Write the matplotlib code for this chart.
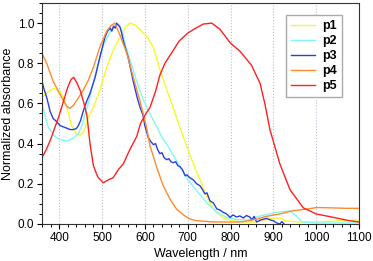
import numpy as np
import matplotlib
matplotlib.use('Agg')
import matplotlib.pyplot as plt
from matplotlib.ticker import MultipleLocator

plt.rcParams['font.family'] = ['Liberation Sans', 'DejaVu Sans']

# p1 (yellow)
wl_p1 = [360, 375, 387, 400, 410, 418, 429, 440, 449, 458, 468, 480, 495, 511, 525, 542, 555, 565,
         578, 590, 604, 620, 635, 651, 666, 682, 698, 713, 729, 744, 760, 783, 806, 830, 860, 880,
         900, 915, 930, 960, 1000, 1050, 1100]
ab_p1 = [0.63, 0.66, 0.675, 0.665, 0.63, 0.58, 0.49, 0.45, 0.44, 0.46, 0.53, 0.58, 0.665, 0.78, 0.86,
         0.93, 0.98, 1.0, 0.99, 0.965, 0.935, 0.88, 0.77, 0.67, 0.58, 0.48, 0.385, 0.30, 0.22, 0.14,
         0.075, 0.03, 0.015, 0.01, 0.01, 0.02, 0.03, 0.03, 0.015, 0.01, 0.01, 0.015, 0.02]

# p2 (cyan)
wl_p2 = [360, 368, 375, 390, 402, 418, 433, 445, 453, 464, 475, 490, 505, 520, 530, 540, 548, 556,
         565, 581, 596, 608, 624, 639, 659, 678, 701, 725, 744, 768, 791, 814, 840, 869, 890, 915,
         939, 954, 966, 1000, 1100]
ab_p2 = [0.60, 0.53, 0.48, 0.435, 0.42, 0.413, 0.427, 0.45, 0.49, 0.57, 0.66, 0.79, 0.90, 0.96, 0.985,
         0.995, 0.95, 0.88, 0.82, 0.71, 0.62, 0.565, 0.50, 0.435, 0.37, 0.30, 0.22, 0.156, 0.107,
         0.058, 0.033, 0.022, 0.02, 0.04, 0.05, 0.06, 0.065, 0.04, 0.01, 0.005, 0.005]

# p3 (blue)
wl_p3 = [360, 365, 371, 379, 386, 394, 402, 408, 414, 420, 425, 433, 440, 445, 450, 456, 464, 472,
         484, 495, 507, 513, 519, 523, 527, 531, 534, 538, 542, 546, 550, 561, 573, 582, 589, 596,
         600, 604, 608, 614, 620, 625, 630, 635, 640, 645, 651, 656, 661, 666, 672, 677, 682, 688,
         694, 698, 705, 713, 721, 729, 735, 740, 745, 752, 760, 768, 775, 783, 791, 799, 806, 814,
         822, 830, 837, 845, 850, 855, 861, 870, 884, 893, 900, 908, 915, 920, 925]
ab_p3 = [0.71, 0.67, 0.63, 0.56, 0.525, 0.51, 0.49, 0.485, 0.48, 0.475, 0.47, 0.47, 0.475, 0.49,
         0.515, 0.56, 0.61, 0.65, 0.73, 0.83, 0.93, 0.96, 0.975, 0.96, 0.985, 0.975, 1.0, 0.99, 0.98,
         0.95, 0.91, 0.83, 0.71, 0.63, 0.58, 0.54, 0.49, 0.46, 0.43, 0.41, 0.395, 0.40, 0.37, 0.35,
         0.355, 0.33, 0.32, 0.325, 0.31, 0.305, 0.31, 0.29, 0.285, 0.27, 0.24, 0.245, 0.23, 0.22,
         0.20, 0.19, 0.17, 0.15, 0.155, 0.115, 0.105, 0.075, 0.07, 0.058, 0.05, 0.033, 0.045, 0.035,
         0.04, 0.03, 0.042, 0.035, 0.02, 0.038, 0.01, 0.02, 0.028, 0.02, 0.016, 0.005, 0.0, 0.012, 0.0]

# p4 (orange)
wl_p4 = [360, 371, 386, 402, 418, 425, 433, 441, 456, 468, 480, 495, 511, 520, 530, 542, 558, 573,
         589, 596, 604, 612, 628, 643, 659, 674, 690, 705, 721, 760, 820, 840, 861, 884, 915, 946,
         978, 1001, 1040, 1070, 1100]
ab_p4 = [0.85, 0.80, 0.71, 0.645, 0.585, 0.575, 0.59, 0.615, 0.665, 0.715, 0.78, 0.88, 0.96, 0.985,
         1.0, 0.94, 0.85, 0.73, 0.61, 0.55, 0.48, 0.39, 0.28, 0.19, 0.123, 0.074, 0.045, 0.025,
         0.016, 0.01, 0.01, 0.015, 0.025, 0.038, 0.05, 0.066, 0.074, 0.082, 0.08, 0.078, 0.078]

# p5 (red)
wl_p5 = [360, 370, 380, 390, 400, 410, 420, 428, 434, 442, 450, 458, 465, 472, 480, 490, 503, 515,
         526, 538, 550, 565, 581, 590, 600, 612, 625, 635, 647, 665, 680, 700, 715, 736, 756, 775,
         800, 822, 849, 869, 880, 892, 915, 939, 970, 1000, 1040, 1078, 1100]
ab_p5 = [0.33, 0.37, 0.42, 0.48, 0.54, 0.61, 0.68, 0.72, 0.73, 0.70, 0.66, 0.60, 0.54, 0.40, 0.29,
         0.235, 0.205, 0.22, 0.23, 0.27, 0.30, 0.37, 0.435, 0.50, 0.54, 0.58, 0.66, 0.74, 0.80, 0.86,
         0.91, 0.95, 0.97, 0.995, 1.0, 0.97, 0.90, 0.86, 0.79, 0.70, 0.60, 0.47, 0.30, 0.17, 0.08,
         0.05, 0.033, 0.016, 0.01]

series = [('p1', wl_p1, ab_p1, '#f8f82a'),
          ('p2', wl_p2, ab_p2, '#80f8f8'),
          ('p3', wl_p3, ab_p3, '#2a3fe0'),
          ('p4', wl_p4, ab_p4, '#ff8a2a'),
          ('p5', wl_p5, ab_p5, '#ff2020')]

fig = plt.figure(figsize=(3.73, 2.61), dpi=100)
ax = fig.add_axes([0.1126, 0.1418, 0.85, 0.8467])

for name, x, y, c in series:
    ax.plot(x, y, color=c, lw=1.0, label=name)

ax.set_xlim(360, 1100)
ax.set_ylim(0, 1.1)
ax.xaxis.set_major_locator(MultipleLocator(100))
ax.xaxis.set_minor_locator(MultipleLocator(20))
ax.yaxis.set_minor_locator(MultipleLocator(0.05))
ax.set_yticks([0.0, 0.2, 0.4, 0.6, 0.8, 1.0])
ax.set_yticklabels(['0.0', '0.2', '0.4', '0.6', '0.8', '1.0'])
ax.tick_params(which='major', direction='out', length=3.5, width=0.8, labelsize=8.5, pad=2)
ax.tick_params(which='minor', direction='out', length=2, width=0.7)
ax.grid(axis='x', which='major', color='#b8c0d0', ls=':', lw=0.8)
for s in ax.spines.values():
    s.set_color('#333333')
    s.set_linewidth(0.8)

ax.set_xlabel('Wavelength / nm', fontsize=9, labelpad=3)
ax.set_ylabel('Normalized absorbance', fontsize=9, labelpad=3)

leg = ax.legend(loc='upper right', bbox_to_anchor=(0.946, 0.946), borderaxespad=0,
                fancybox=False, edgecolor='#aaaaaa', prop={'weight': 'bold', 'size': 9},
                handlelength=1.9, handletextpad=0.6, labelspacing=0.25, borderpad=0.4,
                framealpha=1)

fig.savefig('out.png', dpi=100)
